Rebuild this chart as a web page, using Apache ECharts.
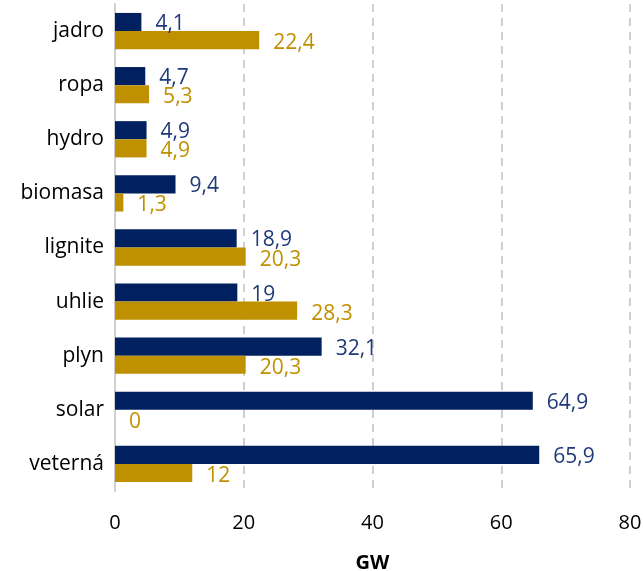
<!DOCTYPE html>
<html>
<head>
<meta charset="utf-8"/>
<title></title>
<script src="https://cdn.jsdelivr.net/npm/echarts@6/dist/echarts.min.js"></script>
</head>
<body style="margin:0">
<div id="chart" style="width:643px;height:571px;"></div>
<script type="text/javascript">

var categories = ['jadro', 'ropa', 'hydro', 'biomasa', 'lignite', 'uhlie', 'plyn', 'solar', 'veterná'];
var navyValues = [4.1, 4.7, 4.9, 9.4, 18.9, 19, 32.1, 64.9, 65.9];
var goldValues = [22.4, 5.3, 4.9, 1.3, 20.3, 28.3, 20.3, 0, 12];
var xTicks = [0, 20, 40, 60, 80];

var fontFam = 'Open Sans';

function fmt(p) {
    return String(p.value).replace('.', ',');
}

var chart = echarts.init(document.getElementById('chart'));
var option = {
    animation: false,
    grid: {
        left: 115,
        right: 13,
        top: 4,
        bottom: 80,
        outerBoundsMode: 'none'
    },
    xAxis: {
        type: 'value',
        min: xTicks[0],
        max: xTicks[xTicks.length - 1],
        interval: 20,
        name: 'GW',
        nameLocation: 'middle',
        nameGap: 62,
        nameTextStyle: { color: '#000', fontSize: 20, fontWeight: 'bold', fontFamily: fontFam },
        axisLine: { show: false },
        axisTick: { show: false },
        axisLabel: { color: '#000', fontSize: 20, margin: 22, fontFamily: fontFam },
        splitLine: {
            show: true,
            lineStyle: { color: '#d0d0d0', type: [8, 6], width: 2 }
        }
    },
    yAxis: {
        type: 'category',
        data: categories,
        inverse: true,
        axisLine: { show: true, lineStyle: { color: '#d0d0d0', width: 2 } },
        axisTick: { show: false },
        axisLabel: { color: '#000', fontSize: 21, margin: 11, fontFamily: fontFam }
    },
    series: [{
        type: 'bar',
        data: navyValues,
        barGap: '0%',
        barCategoryGap: '33%',
        itemStyle: { color: '#002060' },
        label: {
            show: true,
            position: 'right',
            distance: 14,
            offset: [0, 2],
            formatter: fmt,
            color: '#1f3a7a',
            fontSize: 21,
            fontFamily: fontFam
        }
    }, {
        type: 'bar',
        data: goldValues,
        itemStyle: { color: '#bf9000' },
        label: {
            show: true,
            position: 'right',
            distance: 14,
            offset: [0, 3],
            formatter: fmt,
            color: '#bf9000',
            fontSize: 21,
            fontFamily: fontFam
        }
    }]
};
chart.setOption(option);

</script>
</body>
</html>
